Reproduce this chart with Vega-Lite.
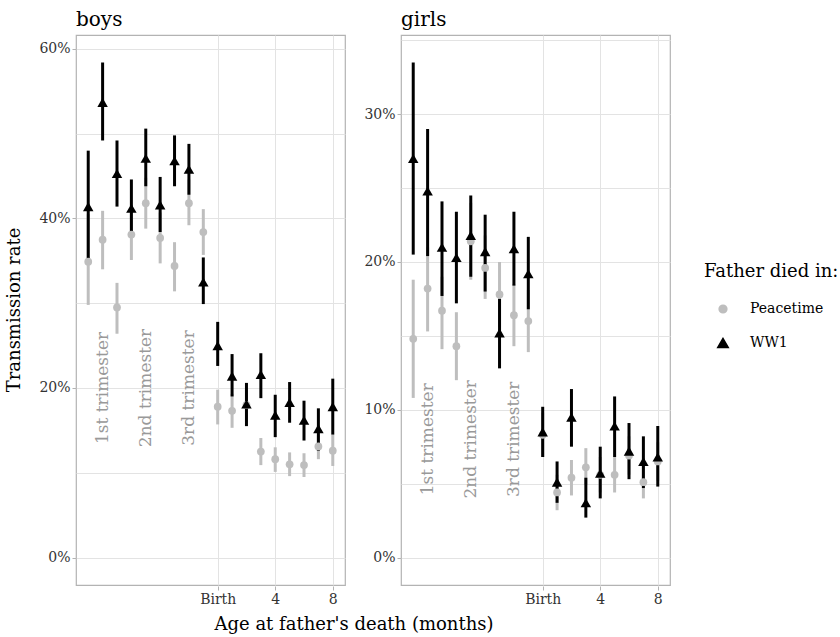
{
  "$schema": "https://vega.github.io/schema/vega-lite/v6.json",
  "background": "white",
  "padding": {"left": 5, "top": 10, "right": 5, "bottom": 5},
  "config": {
    "font": "DejaVu Serif",
    "view": {"stroke": "#b3b3b3", "strokeWidth": 1.2},
    "axis": {"labelFont": "DejaVu Serif", "labelFontSize": 14, "labelColor": "#333333", "tickColor": "#b3b3b3", "tickSize": 4, "domain": false, "gridColor": "#e3e3e3", "gridWidth": 1},
    "header": {"labelFont": "DejaVu Serif", "titleFont": "DejaVu Serif"}
  },
  "data": {"values": [
    {"sex":"boys","group":"Peacetime","month":-9,"rate":0.349,"lo":0.298,"hi":0.405},
    {"sex":"boys","group":"Peacetime","month":-8,"rate":0.375,"lo":0.340,"hi":0.409},
    {"sex":"boys","group":"Peacetime","month":-7,"rate":0.295,"lo":0.264,"hi":0.324},
    {"sex":"boys","group":"Peacetime","month":-6,"rate":0.381,"lo":0.351,"hi":0.413},
    {"sex":"boys","group":"Peacetime","month":-5,"rate":0.418,"lo":0.388,"hi":0.448},
    {"sex":"boys","group":"Peacetime","month":-4,"rate":0.377,"lo":0.347,"hi":0.407},
    {"sex":"boys","group":"Peacetime","month":-3,"rate":0.344,"lo":0.314,"hi":0.372},
    {"sex":"boys","group":"Peacetime","month":-2,"rate":0.418,"lo":0.392,"hi":0.446},
    {"sex":"boys","group":"Peacetime","month":-1,"rate":0.384,"lo":0.357,"hi":0.411},
    {"sex":"boys","group":"Peacetime","month":0,"rate":0.178,"lo":0.157,"hi":0.198},
    {"sex":"boys","group":"Peacetime","month":1,"rate":0.173,"lo":0.153,"hi":0.193},
    {"sex":"boys","group":"Peacetime","month":2,"rate":0.180,"lo":0.160,"hi":0.200},
    {"sex":"boys","group":"Peacetime","month":3,"rate":0.125,"lo":0.109,"hi":0.141},
    {"sex":"boys","group":"Peacetime","month":4,"rate":0.116,"lo":0.101,"hi":0.130},
    {"sex":"boys","group":"Peacetime","month":5,"rate":0.110,"lo":0.096,"hi":0.124},
    {"sex":"boys","group":"Peacetime","month":6,"rate":0.109,"lo":0.095,"hi":0.123},
    {"sex":"boys","group":"Peacetime","month":7,"rate":0.131,"lo":0.116,"hi":0.145},
    {"sex":"boys","group":"Peacetime","month":8,"rate":0.126,"lo":0.108,"hi":0.145},
    {"sex":"girls","group":"Peacetime","month":-9,"rate":0.148,"lo":0.108,"hi":0.188},
    {"sex":"girls","group":"Peacetime","month":-8,"rate":0.182,"lo":0.153,"hi":0.210},
    {"sex":"girls","group":"Peacetime","month":-7,"rate":0.167,"lo":0.141,"hi":0.190},
    {"sex":"girls","group":"Peacetime","month":-6,"rate":0.143,"lo":0.120,"hi":0.166},
    {"sex":"girls","group":"Peacetime","month":-5,"rate":0.214,"lo":0.188,"hi":0.240},
    {"sex":"girls","group":"Peacetime","month":-4,"rate":0.196,"lo":0.175,"hi":0.218},
    {"sex":"girls","group":"Peacetime","month":-3,"rate":0.178,"lo":0.156,"hi":0.200},
    {"sex":"girls","group":"Peacetime","month":-2,"rate":0.164,"lo":0.143,"hi":0.185},
    {"sex":"girls","group":"Peacetime","month":-1,"rate":0.160,"lo":0.139,"hi":0.181},
    {"sex":"girls","group":"Peacetime","month":0,"rate":0.083,"lo":0.068,"hi":0.098},
    {"sex":"girls","group":"Peacetime","month":1,"rate":0.044,"lo":0.032,"hi":0.056},
    {"sex":"girls","group":"Peacetime","month":2,"rate":0.054,"lo":0.042,"hi":0.066},
    {"sex":"girls","group":"Peacetime","month":3,"rate":0.061,"lo":0.049,"hi":0.074},
    {"sex":"girls","group":"Peacetime","month":4,"rate":0.056,"lo":0.044,"hi":0.068},
    {"sex":"girls","group":"Peacetime","month":5,"rate":0.056,"lo":0.044,"hi":0.068},
    {"sex":"girls","group":"Peacetime","month":6,"rate":0.069,"lo":0.056,"hi":0.082},
    {"sex":"girls","group":"Peacetime","month":7,"rate":0.051,"lo":0.040,"hi":0.062},
    {"sex":"girls","group":"Peacetime","month":8,"rate":0.065,"lo":0.052,"hi":0.078},
    {"sex":"boys","group":"WW1","month":-9,"rate":0.414,"lo":0.350,"hi":0.480},
    {"sex":"boys","group":"WW1","month":-8,"rate":0.537,"lo":0.492,"hi":0.584},
    {"sex":"boys","group":"WW1","month":-7,"rate":0.453,"lo":0.414,"hi":0.492},
    {"sex":"boys","group":"WW1","month":-6,"rate":0.412,"lo":0.379,"hi":0.446},
    {"sex":"boys","group":"WW1","month":-5,"rate":0.471,"lo":0.438,"hi":0.506},
    {"sex":"boys","group":"WW1","month":-4,"rate":0.416,"lo":0.384,"hi":0.449},
    {"sex":"boys","group":"WW1","month":-3,"rate":0.468,"lo":0.438,"hi":0.498},
    {"sex":"boys","group":"WW1","month":-2,"rate":0.458,"lo":0.428,"hi":0.488},
    {"sex":"boys","group":"WW1","month":-1,"rate":0.325,"lo":0.299,"hi":0.354},
    {"sex":"boys","group":"WW1","month":0,"rate":0.250,"lo":0.226,"hi":0.278},
    {"sex":"boys","group":"WW1","month":1,"rate":0.214,"lo":0.190,"hi":0.240},
    {"sex":"boys","group":"WW1","month":2,"rate":0.181,"lo":0.155,"hi":0.206},
    {"sex":"boys","group":"WW1","month":3,"rate":0.216,"lo":0.188,"hi":0.241},
    {"sex":"boys","group":"WW1","month":4,"rate":0.168,"lo":0.142,"hi":0.192},
    {"sex":"boys","group":"WW1","month":5,"rate":0.183,"lo":0.159,"hi":0.207},
    {"sex":"boys","group":"WW1","month":6,"rate":0.162,"lo":0.138,"hi":0.185},
    {"sex":"boys","group":"WW1","month":7,"rate":0.152,"lo":0.126,"hi":0.176},
    {"sex":"boys","group":"WW1","month":8,"rate":0.178,"lo":0.145,"hi":0.211},
    {"sex":"girls","group":"WW1","month":-9,"rate":0.270,"lo":0.205,"hi":0.335},
    {"sex":"girls","group":"WW1","month":-8,"rate":0.248,"lo":0.204,"hi":0.290},
    {"sex":"girls","group":"WW1","month":-7,"rate":0.210,"lo":0.177,"hi":0.241},
    {"sex":"girls","group":"WW1","month":-6,"rate":0.203,"lo":0.172,"hi":0.234},
    {"sex":"girls","group":"WW1","month":-5,"rate":0.218,"lo":0.190,"hi":0.245},
    {"sex":"girls","group":"WW1","month":-4,"rate":0.207,"lo":0.180,"hi":0.232},
    {"sex":"girls","group":"WW1","month":-3,"rate":0.152,"lo":0.128,"hi":0.175},
    {"sex":"girls","group":"WW1","month":-2,"rate":0.209,"lo":0.184,"hi":0.234},
    {"sex":"girls","group":"WW1","month":-1,"rate":0.192,"lo":0.168,"hi":0.217},
    {"sex":"girls","group":"WW1","month":0,"rate":0.085,"lo":0.068,"hi":0.102},
    {"sex":"girls","group":"WW1","month":1,"rate":0.051,"lo":0.037,"hi":0.065},
    {"sex":"girls","group":"WW1","month":2,"rate":0.095,"lo":0.075,"hi":0.114},
    {"sex":"girls","group":"WW1","month":3,"rate":0.037,"lo":0.027,"hi":0.054},
    {"sex":"girls","group":"WW1","month":4,"rate":0.057,"lo":0.040,"hi":0.075},
    {"sex":"girls","group":"WW1","month":5,"rate":0.089,"lo":0.068,"hi":0.109},
    {"sex":"girls","group":"WW1","month":6,"rate":0.072,"lo":0.053,"hi":0.091},
    {"sex":"girls","group":"WW1","month":7,"rate":0.065,"lo":0.047,"hi":0.082},
    {"sex":"girls","group":"WW1","month":8,"rate":0.068,"lo":0.048,"hi":0.089},
    {"sex":"boys","month":-8,"rate":0.20,"label":"1st trimester"},
    {"sex":"boys","month":-5,"rate":0.20,"label":"2nd trimester"},
    {"sex":"boys","month":-2,"rate":0.20,"label":"3rd trimester"},
    {"sex":"girls","month":-8,"rate":0.08,"label":"1st trimester"},
    {"sex":"girls","month":-5,"rate":0.08,"label":"2nd trimester"},
    {"sex":"girls","month":-2,"rate":0.08,"label":"3rd trimester"}
  ]},
  "facet": {
    "column": {"field": "sex", "type": "nominal", "title": "Age at father's death (months)",
      "header": {"labelOrient": "top", "titleOrient": "bottom", "labelFontSize": 20, "labelColor": "black", "labelAlign": "left", "labelAnchor": "start", "labelPadding": 4, "titleFontSize": 18, "titleFontWeight": "normal", "titleColor": "black", "titlePadding": 0}},
    "row": {"field": "panel", "type": "nominal", "title": "Transmission rate",
      "header": {"labels": false, "titleOrient": "left", "titleFontSize": 18, "titleFontWeight": "normal", "titleColor": "black", "titlePadding": 4}}
  },
  "spacing": {"column": 17},
  "resolve": {"scale": {"y": "independent"}},
  "spec": {
    "width": 269,
    "height": 550,
    "resolve": {"axis": {"y": "independent"}},
    "layer": [
      {
        "transform": [{"filter": "datum.group != null"}],
        "mark": {"type": "rule", "strokeWidth": 3},
        "encoding": {
          "x": {"field": "month", "type": "quantitative", "scale": {"domain": [-9.85, 8.85], "nice": false, "zero": false},
            "axis": {"title": null, "values": [0, 4, 8], "labelExpr": "datum.value == 0 ? 'Birth' : datum.label", "grid": true}},
          "y": {"field": "lo", "type": "quantitative", "scale": {"zero": true, "nice": false, "padding": 27.5},
            "axis": {"title": null, "orient": "left", "tickCount": 7, "labels": false, "ticks": false, "grid": true}},
          "y2": {"field": "hi"},
          "color": {"field": "group", "type": "nominal", "title": "Father died in:", "scale": {"domain": ["Peacetime", "WW1"], "range": ["#bebebe", "#000000"]},
            "legend": {"orient": "none", "legendX": 628, "legendY": 228, "titleFontSize": 18, "titleFontWeight": "normal", "titleColor": "black", "titleFont": "DejaVu Serif", "labelFont": "DejaVu Serif", "labelFontSize": 14, "labelColor": "black", "symbolSize": 100, "symbolOffset": 12, "labelOffset": 20, "rowPadding": 19, "titlePadding": 21}}
        }
      },
      {
        "transform": [{"filter": "datum.group != null"}],
        "mark": {"type": "point", "filled": true, "opacity": 1},
        "encoding": {
          "x": {"field": "month", "type": "quantitative"},
          "y": {"field": "rate", "type": "quantitative",
            "axis": {"title": null, "orient": "left", "tickCount": 4, "format": ".0%", "grid": false}},
          "color": {"field": "group", "type": "nominal", "title": "Father died in:"},
          "shape": {"field": "group", "type": "nominal", "scale": {"domain": ["Peacetime", "WW1"], "range": ["circle", "triangle-up"]}, "legend": null},
          "size": {"field": "group", "type": "nominal", "scale": {"domain": ["Peacetime", "WW1"], "range": [60, 110]}, "legend": null}
        }
      },
      {
        "transform": [{"filter": "datum.label != null"}],
        "mark": {"type": "text", "angle": 270, "align": "center", "baseline": "middle", "fontSize": 17, "color": "#999999", "font": "DejaVu Serif"},
        "encoding": {
          "x": {"field": "month", "type": "quantitative"},
          "y": {"field": "rate", "type": "quantitative", "axis": null},
          "text": {"field": "label"}
        }
      }
    ]
  }
}
